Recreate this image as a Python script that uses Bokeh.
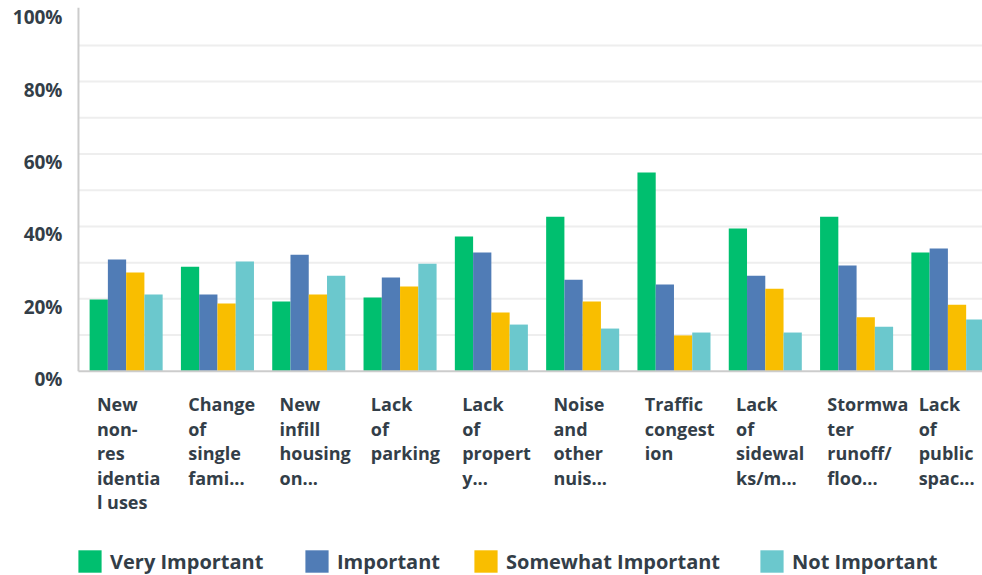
from bokeh.plotting import figure
from bokeh.models import Range1d, Legend, LegendItem, ColumnDataSource
from bokeh.transform import dodge
from bokeh.core.properties import value
from bokeh.embed import file_html
from bokeh.resources import INLINE

categories = [
    "New\nnon-\nres\nidentia\nl uses",
    "Change\nof\nsingle\nfami...",
    "New\ninfill\nhousing\non...",
    "Lack\nof\nparking",
    "Lack\nof\npropert\ny...",
    "Noise\nand\nother\nnuis...",
    "Traffic\ncongest\nion",
    "Lack\nof\nsidewal\nks/m...",
    "Stormwa\nter\nrunoff/\nfloo...",
    "Lack\nof\npublic\nspac...",
]
very_important = [19.8, 28.9, 19.3, 20.4, 37.2, 42.7, 54.9, 39.4, 42.7, 32.8]
important = [30.9, 21.2, 32.2, 25.9, 32.8, 25.3, 24.0, 26.4, 29.2, 33.9]
somewhat_important = [27.3, 18.7, 21.2, 23.4, 16.2, 19.3, 9.9, 22.8, 14.9, 18.4]
not_important = [21.2, 30.3, 26.4, 29.7, 12.9, 11.8, 10.7, 10.7, 12.3, 14.3]
series_names = ["Very Important", "Important", "Somewhat Important", "Not Important"]
y_ticks = [0, 20, 40, 60, 80, 100]
y_tick_labels = ["0%", "20%", "40%", "60%", "80%", "100%"]
grid_ticks = [10, 20, 30, 40, 50, 60, 70, 80, 90]

colors = ["#00bf6f", "#507cb6", "#f9be00", "#6bc8cd"]
text_color = "#333e48"
FONT = "Open Sans"

# layout constants (plot-area edges in data units)
X_LEFT = -0.522
X_END = 9.379
Y_TOP = 102.4
Y_BOTTOM = -56.4

n = len(categories)
source = ColumnDataSource(dict(
    x=list(range(n)),
    v1=very_important, v2=important, v3=somewhat_important, v4=not_important,
))

p = figure(width=982, height=575, output_backend="svg", toolbar_location=None,
           x_range=Range1d(X_LEFT - 0.854, X_END), y_range=Range1d(Y_BOTTOM, Y_TOP),
           min_border_left=0, min_border_right=0, min_border_top=0, min_border_bottom=0)
p.outline_line_color = None
p.xaxis.visible = False
p.yaxis.visible = False
p.grid.visible = False
p.background_fill_color = "white"
p.border_fill_color = "white"

# gridlines
p.segment(x0=[X_LEFT] * len(grid_ticks), x1=[X_END] * len(grid_ticks),
          y0=grid_ticks, y1=grid_ticks, line_color="#eeeeee", line_width=2)

renderers = []
offsets = [-0.3, -0.1, 0.1, 0.3]
for i, (col, c) in enumerate(zip(["v1", "v2", "v3", "v4"], colors)):
    r = p.vbar(x=dodge("x", offsets[i], range=p.x_range), top=col, width=0.2,
               source=source, fill_color=c, line_color=None)
    renderers.append(r)

# axis lines
p.segment(x0=[X_LEFT], x1=[X_LEFT], y0=[0], y1=[100.4], line_color="#cccccc", line_width=2)
p.segment(x0=[X_LEFT], x1=[X_END], y0=[0], y1=[0], line_color="#cccccc", line_width=2)

# y tick labels
p.text(x=[X_LEFT] * len(y_ticks), y=y_ticks, text=y_tick_labels, x_offset=-16, y_offset=8,
       text_align="right", text_baseline="middle", text_font=value(FONT),
       text_font_style="bold", text_font_size="19px", text_color=text_color)

# category labels
p.text(x=[i - 0.32 for i in range(n)], y=[-5.8] * n, text=categories,
       text_align="left", text_baseline="top", text_font=value(FONT),
       text_font_style="bold", text_font_size="18px", text_color=text_color,
       text_line_height=1.02)

# legends, one per series
legend_x = [75, 302, 471, 757]
for name, r, lx in zip(series_names, renderers, legend_x):
    lg = Legend(items=[LegendItem(label=name, renderers=[r])],
                orientation="horizontal", location=(lx, 0), spacing=0,
                label_standoff=6, glyph_width=29, glyph_height=28, padding=0, margin=0,
                label_text_font=FONT, label_text_font_style="bold",
                label_text_font_size="20px", label_text_color=text_color,
                background_fill_alpha=0, border_line_color=None, label_height=28)
    p.add_layout(lg, "center")

open("out.html", "w").write(file_html(p, INLINE))
